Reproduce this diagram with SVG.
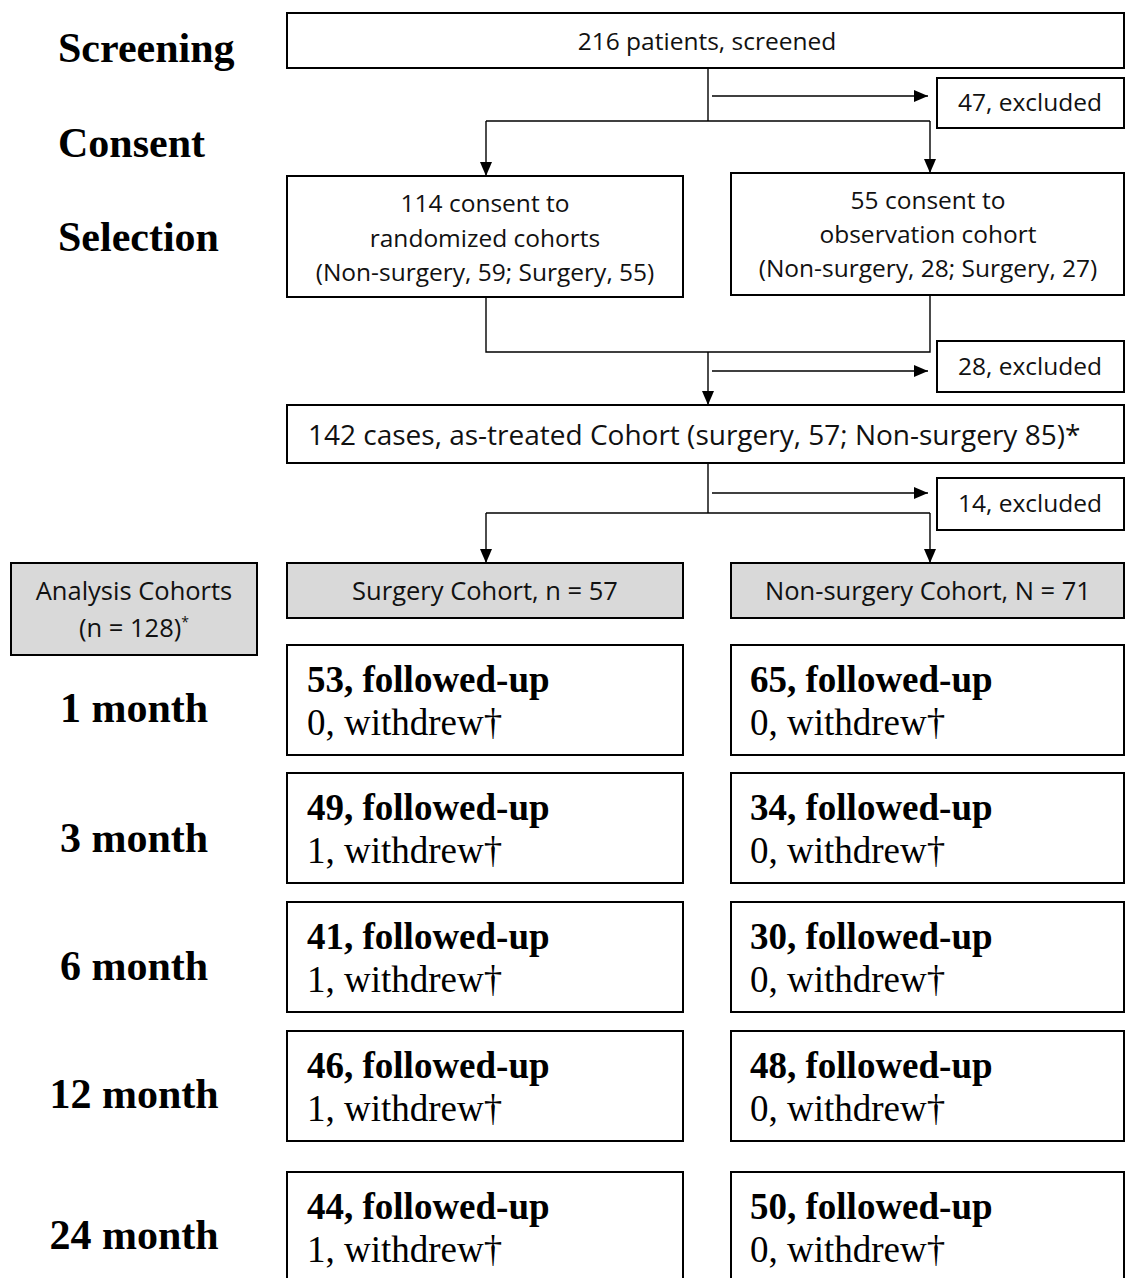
<svg xmlns="http://www.w3.org/2000/svg" width="1131" height="1278" viewBox="0 0 1131 1278">
<defs>
<style>
.box{fill:#fff;stroke:#000;stroke-width:2}
.grey{fill:#d9d9d9;stroke:#000;stroke-width:2}
.ln{fill:none;stroke:#000;stroke-width:1.4}
.arr{fill:none;stroke:#000;stroke-width:1.4;marker-end:url(#ah)}
.s{font-family:"Open Sans","Noto Sans","Liberation Sans",sans-serif;font-size:24.5px;fill:#111}
.g{font-size:25.5px}
.big{font-size:28px}
.sup{font-size:14px}
.c{text-anchor:middle}
.lab{font-family:"Liberation Serif","Times New Roman",serif;font-size:42px;font-weight:bold;fill:#000}
.fb{font-family:"Liberation Serif","Times New Roman",serif;font-size:37px;font-weight:bold;fill:#000}
.fr{font-family:"Liberation Serif","Times New Roman",serif;font-size:37px;fill:#000}
</style>
<marker id="ah" viewBox="0 0 14 12" refX="14" refY="6" markerWidth="14" markerHeight="12" markerUnits="userSpaceOnUse" orient="auto">
<path d="M0,0 L14,6 L0,12 Z" fill="#000"/>
</marker>
</defs>
<rect width="1131" height="1278" fill="#fff"/>

<g id="stage-labels">
<text class="lab" x="58" y="62">Screening</text>
<text class="lab" x="58" y="157">Consent</text>
<text class="lab" x="58" y="251">Selection</text>
<text class="lab c" x="134" y="722">1 month</text>
<text class="lab c" x="134" y="852">3 month</text>
<text class="lab c" x="134" y="980">6 month</text>
<text class="lab c" x="134" y="1108">12 month</text>
<text class="lab c" x="134" y="1249">24 month</text>
</g>

<g id="connectors">
<polyline class="ln" points="708,68 708,121"/>
<polyline class="ln" points="486,121 930,121"/>
<polyline class="arr" points="486,121 486,176"/>
<polyline class="arr" points="930,121 930,173"/>
<polyline class="arr" points="712,96 928,96"/>
<polyline class="ln" points="486,297 486,352 930,352 930,295"/>
<polyline class="arr" points="708,352 708,405"/>
<polyline class="arr" points="712,371 928,371"/>
<polyline class="ln" points="708,463 708,513"/>
<polyline class="ln" points="486,513 930,513"/>
<polyline class="arr" points="486,513 486,563"/>
<polyline class="arr" points="930,513 930,563"/>
<polyline class="arr" points="712,493 928,493"/>
</g>

<g id="screened">
<rect class="box" x="287" y="13" width="837" height="55"/>
<text class="s c" x="707" y="50">216 patients, screened</text>
</g>
<g id="excluded-47">
<rect class="box" x="937" y="78" width="187" height="50"/>
<text class="s c" x="1030" y="111">47, excluded</text>
</g>
<g id="randomized">
<rect class="box" x="287" y="176" width="396" height="121"/>
<text class="s c" x="485" y="212">114 consent to</text>
<text class="s c" x="485" y="247">randomized cohorts</text>
<text class="s c" x="485" y="281">(Non-surgery, 59; Surgery, 55)</text>
</g>
<g id="observation">
<rect class="box" x="731" y="173" width="393" height="122"/>
<text class="s c" x="928" y="209">55 consent to</text>
<text class="s c" x="928" y="243">observation cohort</text>
<text class="s c" x="928" y="277">(Non-surgery, 28; Surgery, 27)</text>
</g>
<g id="excluded-28">
<rect class="box" x="937" y="341" width="187" height="51"/>
<text class="s c" x="1030" y="375">28, excluded</text>
</g>
<g id="as-treated">
<rect class="box" x="287" y="405" width="837" height="58"/>
<text class="s big" x="308" y="445">142 cases, as-treated Cohort (surgery, 57; Non-surgery 85)*</text>
</g>
<g id="excluded-14">
<rect class="box" x="937" y="478" width="187" height="52"/>
<text class="s c" x="1030" y="512">14, excluded</text>
</g>
<g id="analysis-cohorts">
<rect class="grey" x="11" y="563" width="246" height="92"/>
<text class="s g c" x="134" y="600">Analysis Cohorts</text>
<text class="s g c" x="134" y="637">(n = 128)<tspan class="sup" dy="-10">*</tspan></text>
</g>
<g id="surgery-cohort">
<rect class="grey" x="287" y="563" width="396" height="55"/>
<text class="s g c" x="485" y="600">Surgery Cohort, n = 57</text>
</g>
<g id="nonsurgery-cohort">
<rect class="grey" x="731" y="563" width="393" height="55"/>
<text class="s g c" x="928" y="600">Non-surgery Cohort, N = 71</text>
</g>

<g id="s-1m"><rect class="box" x="287" y="645" width="396" height="110"/><text class="fb" x="307" y="692">53, followed-up</text><text class="fr" x="307" y="735">0, withdrew†</text></g>
<g id="n-1m"><rect class="box" x="731" y="645" width="393" height="110"/><text class="fb" x="750" y="692">65, followed-up</text><text class="fr" x="750" y="735">0, withdrew†</text></g>
<g id="s-3m"><rect class="box" x="287" y="773" width="396" height="110"/><text class="fb" x="307" y="820">49, followed-up</text><text class="fr" x="307" y="863">1, withdrew†</text></g>
<g id="n-3m"><rect class="box" x="731" y="773" width="393" height="110"/><text class="fb" x="750" y="820">34, followed-up</text><text class="fr" x="750" y="863">0, withdrew†</text></g>
<g id="s-6m"><rect class="box" x="287" y="902" width="396" height="110"/><text class="fb" x="307" y="949">41, followed-up</text><text class="fr" x="307" y="992">1, withdrew†</text></g>
<g id="n-6m"><rect class="box" x="731" y="902" width="393" height="110"/><text class="fb" x="750" y="949">30, followed-up</text><text class="fr" x="750" y="992">0, withdrew†</text></g>
<g id="s-12m"><rect class="box" x="287" y="1031" width="396" height="110"/><text class="fb" x="307" y="1078">46, followed-up</text><text class="fr" x="307" y="1121">1, withdrew†</text></g>
<g id="n-12m"><rect class="box" x="731" y="1031" width="393" height="110"/><text class="fb" x="750" y="1078">48, followed-up</text><text class="fr" x="750" y="1121">0, withdrew†</text></g>
<g id="s-24m"><rect class="box" x="287" y="1172" width="396" height="120"/><text class="fb" x="307" y="1219">44, followed-up</text><text class="fr" x="307" y="1262">1, withdrew†</text></g>
<g id="n-24m"><rect class="box" x="731" y="1172" width="393" height="120"/><text class="fb" x="750" y="1219">50, followed-up</text><text class="fr" x="750" y="1262">0, withdrew†</text></g>
</svg>
